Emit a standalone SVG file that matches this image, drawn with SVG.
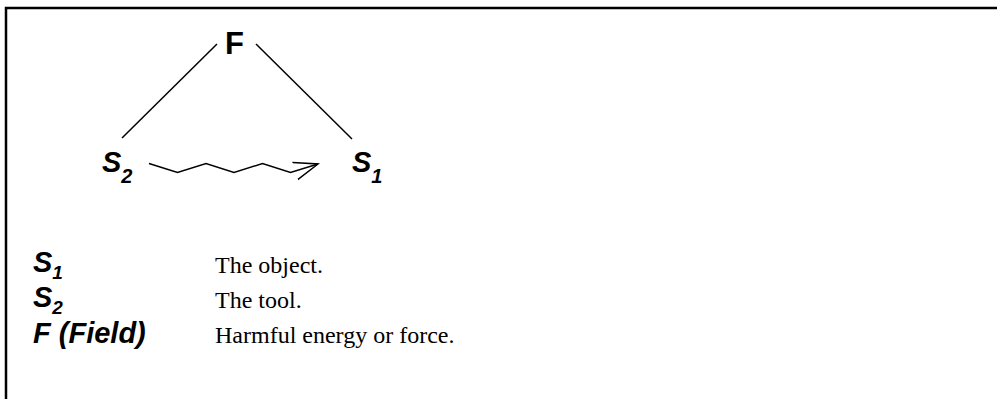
<svg xmlns="http://www.w3.org/2000/svg" width="997" height="399" viewBox="0 0 997 399">
<style>
.sym{font-family:"Liberation Sans",Arial,sans-serif;font-weight:bold;font-style:italic;font-size:29px;fill:#000}
.sub{font-size:20px}
.lsub{font-size:19px}
.f{font-family:"Liberation Sans",Arial,sans-serif;font-weight:bold;font-size:31px;fill:#000}
.desc{font-family:"Liberation Serif","Times New Roman",serif;font-size:24px;fill:#000}
.ln{stroke:#000;stroke-width:1.5;fill:none}
</style>
<defs>
<marker id="arr" markerWidth="30" markerHeight="30" refX="24" refY="10" orient="auto" markerUnits="userSpaceOnUse">
<path d="M0,1 L24,10 L0,19" fill="none" stroke="#000" stroke-width="1.5"/>
</marker>
</defs>
<rect x="6" y="8" width="1100" height="500" fill="#fff" stroke="#000" stroke-width="2.5"/>
<g id="connectors">
<line class="ln" x1="217" y1="44" x2="122" y2="138"/>
<line class="ln" x1="256" y1="44" x2="352" y2="139"/>
<polyline class="ln" points="149,163.5 177.5,172.5 206,163.5 234,172.5 262.5,163.5 290.5,172.5 318,164" marker-end="url(#arr)"/>
</g>
<g id="node-F"><text class="f" x="225" y="54">F</text></g>
<g id="node-S2"><text class="sym" x="102" y="172">S<tspan class="sub" dy="11">2</tspan></text></g>
<g id="node-S1"><text class="sym" x="352" y="172">S<tspan class="sub" dy="11">1</tspan></text></g>
<g id="legend">
<text class="sym" x="33" y="272">S<tspan class="lsub" dy="7">1</tspan></text>
<text class="desc" x="215" y="273">The object.</text>
<text class="sym" x="33" y="307">S<tspan class="lsub" dy="7">2</tspan></text>
<text class="desc" x="215" y="308">The tool.</text>
<text class="sym" x="33" y="343">F (Field)</text>
<text class="desc" x="215" y="343">Harmful energy or force.</text>
</g>
</svg>
